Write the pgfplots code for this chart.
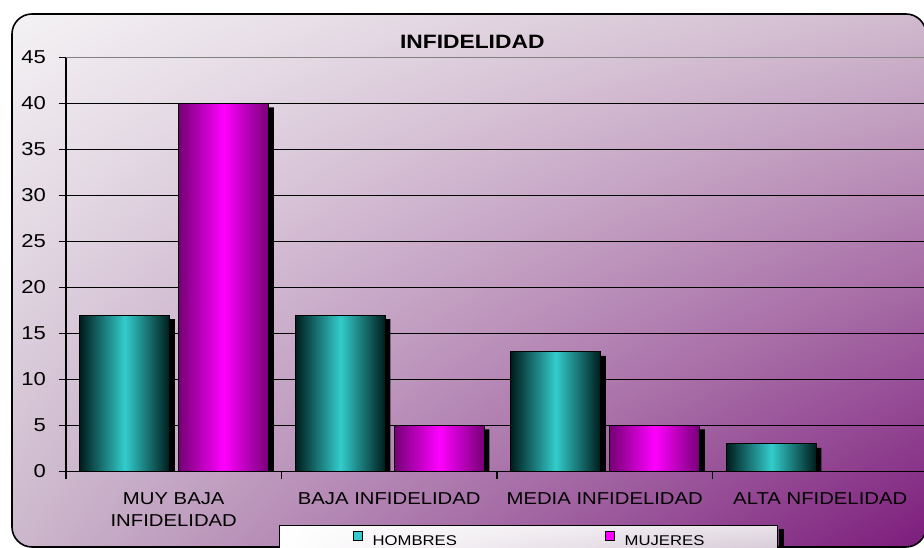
\documentclass[border=0pt]{standalone}
\usepackage{pgfplots}
\pgfplotsset{compat=1.18}
\usetikzlibrary{shadings}
\usepackage{fontspec}
\setmainfont{Liberation Sans}[FakeStretch=1.18]
\definecolor{tealB}{RGB}{51,204,204}
\definecolor{tealD}{RGB}{0,28,28}
\definecolor{magB}{RGB}{255,0,255}
\definecolor{magD}{RGB}{118,0,118}
\definecolor{bgUL}{RGB}{244,242,244}
\definecolor{bgUR}{RGB}{208,186,206}
\definecolor{bgLL}{RGB}{204,184,204}
\definecolor{bgLR}{RGB}{124,28,124}
\definecolor{legLR}{RGB}{212,198,212}
\definecolor{legUR}{RGB}{232,226,232}
\pgfplotsset{
  hbar/.style={ybar, bar width=67.5pt, bar shift=-36.75pt, draw=black, line width=0.6pt,
    left color=tealD, right color=tealD, middle color=tealB, forget plot},
  mbar/.style={ybar, bar width=67.5pt, bar shift=37.5pt, draw=black, line width=0.6pt,
    left color=magD, right color=magD, middle color=magB, forget plot},
  sbar/.style={ybar, bar width=67.5pt, bar shift=#1, fill=black, draw=none, yshift=-3pt, forget plot},
  hleg/.style={legend image code/.code={\draw[fill=tealB, draw=black, line width=1pt] (0pt,0.5pt) rectangle (6.8pt,7.3pt);}},
  mleg/.style={legend image code/.code={\draw[fill=magB, draw=black, line width=1pt] (0pt,0.5pt) rectangle (6.8pt,7.3pt);}},
}
\begin{document}
\begin{tikzpicture}[x=0.75pt,y=0.75pt]
\useasboundingbox (0,0) rectangle (924,548);
\shade[upper left=bgUL, upper right=bgUR, lower left=bgLL, lower right=bgLR, rounded corners=15pt] (12,1) rectangle (926,534);
\draw[line width=1.2pt, rounded corners=15pt] (12,1) rectangle (926,534);
\begin{axis}[
  at={(49.5pt,57.375pt)}, anchor=south west,
  scale only axis, width=646.5pt, height=310.5pt,
  xmin=0, xmax=4, ymin=0, ymax=45,
  axis lines*=left,
  axis line style={black, line width=0.9pt},
  ytick={0,5,...,40},
  extra y ticks={45},
  extra y tick style={grid style={color=gray, line width=1pt}},
  ymajorgrids,
  grid style={black, line width=0.8pt},
  tick style={black, line width=0.8pt},
  tick align=outside,
  major tick length=5.5pt,
  xtick={0,1,2,3,4}, xticklabels={},
  extra x ticks={0.5,1.5,2.5,3.5},
  extra x tick labels={{MUY BAJA\\INFIDELIDAD},{BAJA INFIDELIDAD},{MEDIA INFIDELIDAD},{ALTA NFIDELIDAD}},
  extra x tick style={tick align=inside, major tick length=2.25pt},
  xticklabel style={font=\fontsize{12.9}{16.8}\selectfont, align=center, anchor=north, yshift=-12pt},
  yticklabel style={font=\fontsize{14}{16}\selectfont, xshift=-6pt},
  /pgf/number format/assume math mode=true,
  title={INFIDELIDAD},
  title style={at={(0.4713,1.0029)}, anchor=base, yshift=0pt, font=\fontsize{14.5}{17}\selectfont\bfseries},
  legend columns=2,
  legend style={name=leg, at={(0.2471,-0.1292)}, anchor=north west, draw=black, line width=0.9pt,
    upper left=white, upper right=legUR, lower left=white, lower right=legLR,
    font=\fontsize{10.6}{13}\selectfont,
    inner xsep=55pt, inner ysep=4pt,
    nodes={inner sep=0pt},
    /tikz/every odd column/.append style={column sep=7pt},
    /tikz/every even column/.append style={column sep=111pt}},
]
\addlegendimage{hleg}
\addlegendentry{HOMBRES}
\addlegendimage{mleg}
\addlegendentry{MUJERES}
% shadows
\addplot[sbar=-33pt] coordinates {(0.5,17) (1.5,17) (2.5,13) (3.5,3)};
\addplot[sbar=41.25pt] coordinates {(0.5,40) (1.5,5) (2.5,5) (3.5,0)};
% HOMBRES
\addplot[hbar] coordinates {(0.5,17)};
\addplot[hbar] coordinates {(1.5,17)};
\addplot[hbar] coordinates {(2.5,13)};
\addplot[hbar] coordinates {(3.5,3)};
% MUJERES
\addplot[mbar] coordinates {(0.5,40)};
\addplot[mbar] coordinates {(1.5,5)};
\addplot[mbar] coordinates {(2.5,5)};
\addplot[mbar] coordinates {(3.5,0)};
\end{axis}
\fill[black] ([xshift=0.45pt,yshift=-3pt]leg.north east) rectangle ([xshift=4.2pt]leg.south east);
\end{tikzpicture}
\end{document}
